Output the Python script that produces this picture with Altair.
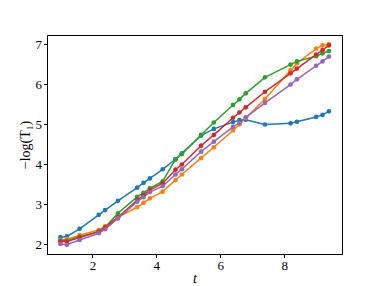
import altair as alt
import pandas as pd

t_values = [1.0, 1.2, 1.6, 2.2, 2.4, 2.8, 3.4, 3.6, 3.8, 4.2, 4.6, 4.8,
            5.4, 5.8, 6.4, 6.6, 6.8, 7.4, 8.2, 8.4, 9.0, 9.2, 9.4]

series_names = ["s1", "s2", "s3", "s4", "s5"]
series_colors = ["#1f77b4", "#ff7f0e", "#2ca02c", "#d62728", "#9467bd"]

blue = [2.17, 2.19, 2.38, 2.73, 2.85, 3.08, 3.41, 3.53, 3.64, 3.87, 4.12, 4.27,
        4.71, 4.88, 5.05, 5.10, 5.11, 4.99, 5.02, 5.06, 5.18, 5.23, 5.32]
orange = [2.10, 2.12, 2.22, 2.35, 2.45, 2.67, 2.92, 3.03, 3.14, 3.31, 3.60, 3.74,
          4.15, 4.42, 4.84, 4.99, 5.15, 5.63, 6.35, 6.52, 6.89, 6.97, 7.00]
green = [2.08, 2.08, 2.18, 2.31, 2.42, 2.77, 3.18, 3.28, 3.39, 3.57, 4.12, 4.25,
         4.73, 5.04, 5.48, 5.62, 5.77, 6.17, 6.49, 6.57, 6.70, 6.77, 6.83]
red = [2.06, 2.06, 2.16, 2.31, 2.41, 2.67, 3.10, 3.22, 3.35, 3.52, 3.86, 3.99,
       4.46, 4.73, 5.16, 5.29, 5.42, 5.81, 6.27, 6.39, 6.74, 6.85, 6.97]
purple = [2.00, 1.98, 2.10, 2.27, 2.37, 2.64, 3.06, 3.17, 3.30, 3.45, 3.74, 3.87,
          4.31, 4.56, 4.93, 5.03, 5.17, 5.53, 5.99, 6.12, 6.46, 6.57, 6.69]

all_series = [blue, orange, green, red, purple]

rows = []
for k, (name, vals) in enumerate(zip(series_names, all_series)):
    for t, v in zip(t_values, vals):
        rows.append({"t": t, "v": v, "series": name, "order": k})
df = pd.DataFrame(rows)

FONT = "Liberation Serif"

base = alt.Chart(df).encode(
    x=alt.X("t:Q",
            scale=alt.Scale(domain=[0.58, 9.81], nice=False, zero=False),
            axis=alt.Axis(values=[2, 4, 6, 8], title="t", grid=False,
                          titleFontStyle="italic")),
    y=alt.Y("v:Q",
            scale=alt.Scale(domain=[1.75, 7.23], nice=False, zero=False),
            axis=alt.Axis(values=[2, 3, 4, 5, 6, 7], title="−log(T₁)", grid=False)),
    color=alt.Color("series:N",
                    scale=alt.Scale(domain=series_names, range=series_colors),
                    legend=None),
    order=alt.Order("order:Q"),
)

lines = base.mark_line(strokeWidth=1.5)
points = base.mark_circle(size=22, opacity=1)

chart = alt.layer(lines, points).properties(
    width=295,
    height=219,
    autosize=alt.AutoSizeParams(type="none"),
    padding={"left": 39, "top": 27, "right": 30, "bottom": 32},
).configure_view(
    stroke="black",
    strokeWidth=1,
).configure_axis(
    domainColor="black",
    tickColor="black",
    tickSize=3.5,
    labelFont=FONT,
    titleFont=FONT,
    labelFontSize=13,
    titleFontSize=14,
    labelColor="black",
    titleColor="black",
    titleFontWeight="normal",
    labelPadding=2,
).configure_axisX(
    titlePadding=-1,
).configure_axisY(
    titlePadding=3,
)

chart.save("out.html", embed_options={"renderer": "svg", "actions": False})
